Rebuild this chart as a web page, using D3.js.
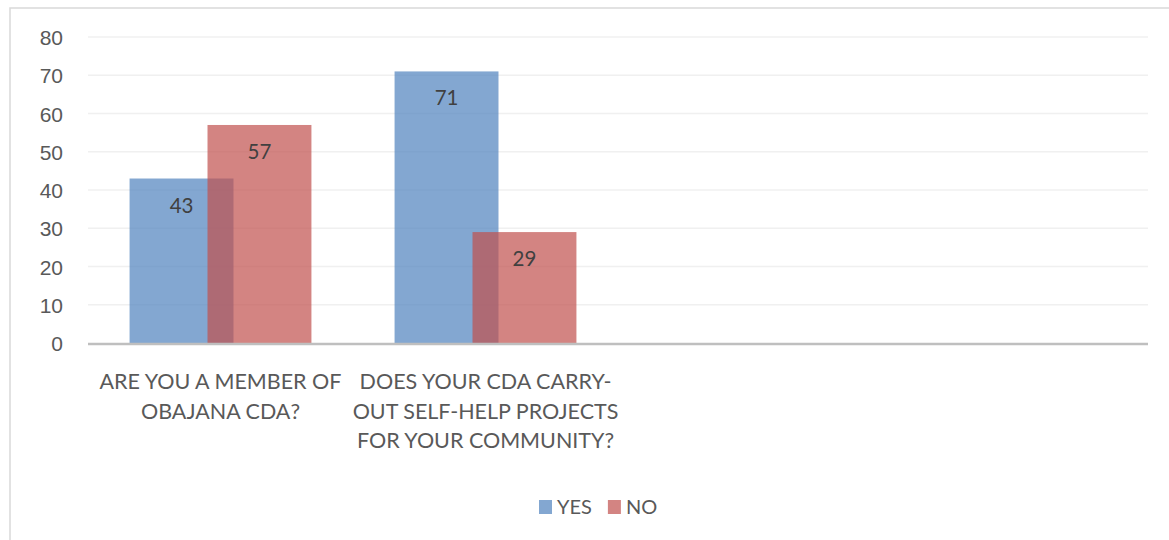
<!DOCTYPE html>
<html lang="en">
<head>
<meta charset="UTF-8">
<title>CDA membership and self-help projects</title>
<script src="https://d3js.org/d3.v7.min.js"></script>
<style>
    html, body { margin: 0; padding: 0; background: #fff; overflow: hidden; }
    svg { display: block; font-family: Lato, 'Open Sans', sans-serif; }
</style>
</head>
<body>
<div id="chart"></div>
<script>
    // Chart data
    const categories = [
        "ARE YOU A MEMBER OF\nOBAJANA CDA?",
        "DOES YOUR CDA CARRY-\nOUT SELF-HELP PROJECTS\nFOR YOUR COMMUNITY?",
        "",
        ""
    ];
    const seriesNames = ["YES", "NO"];
    const yesValues = [43, 71, null, null];
    const noValues = [57, 29, null, null];
    const yTicks = [0, 10, 20, 30, 40, 50, 60, 70, 80];

    const colors = ["#4F81BD", "#C0504D"];
    const series = [yesValues, noValues];

    const width = 1169, height = 540;
    const plot = { left: 88, right: 1148, top: 37, bottom: 343 };

    const svg = d3.select("#chart").append("svg")
        .attr("width", width)
        .attr("height", height);

    // outer chart frame (runs past the right and bottom edges)
    svg.append("rect")
        .attr("x", 10).attr("y", 8)
        .attr("width", 1300).attr("height", 700)
        .attr("fill", "none")
        .attr("stroke", "#d9d9d9")
        .attr("stroke-width", 1.5);

    const x = d3.scaleBand()
        .domain(d3.range(categories.length))
        .range([plot.left, plot.right]);

    const y = d3.scaleLinear()
        .domain([0, 80])
        .range([plot.bottom, plot.top]);

    // gridlines
    svg.append("g")
        .selectAll("line")
        .data(yTicks.filter(t => t > 0))
        .join("line")
        .attr("x1", plot.left).attr("x2", plot.right)
        .attr("y1", d => y(d)).attr("y2", d => y(d))
        .attr("stroke", "#f0f0f0")
        .attr("stroke-width", 1.5);

    // y axis labels
    const yAxis = d3.axisLeft(y).tickValues(yTicks).tickSize(0).tickPadding(25);
    const gy = svg.append("g")
        .attr("transform", `translate(${plot.left},0)`)
        .call(yAxis);
    gy.select(".domain").remove();
    gy.selectAll("text")
        .attr("fill", "#595959")
        .style("font-size", "21px")
        .attr("dy", "0.36em");

    // Excel-like clustered bars: gap width 80%, overlap 25%
    const gap = 0.8, overlap = 0.25, n = series.length;
    const barW = x.bandwidth() / (n - (n - 1) * overlap + gap);
    const step = barW * (1 - overlap);
    const groupW = barW + step * (n - 1);

    series.forEach((vals, si) => {
        const g = svg.append("g");
        const pts = vals.map((v, i) => ({ v, i })).filter(d => d.v != null);
        const bx = d => x(d.i) + (x.bandwidth() - groupW) / 2 + si * step;

        g.selectAll("rect")
            .data(pts)
            .join("rect")
            .attr("x", bx)
            .attr("y", d => y(d.v))
            .attr("width", barW)
            .attr("height", d => y(0) - y(d.v))
            .attr("fill", colors[si])
            .attr("fill-opacity", 0.7);

        g.selectAll("text")
            .data(pts)
            .join("text")
            .attr("x", d => bx(d) + barW / 2)
            .attr("y", d => y(d.v) + 34)
            .attr("text-anchor", "middle")
            .attr("fill", "#404040")
            .style("font-size", "20.5px")
            .text(d => d.v);
    });

    // x axis line
    svg.append("line")
        .attr("x1", plot.left).attr("x2", plot.right)
        .attr("y1", y(0) + 1).attr("y2", y(0) + 1)
        .attr("stroke", "#bfbfbf")
        .attr("stroke-width", 2.5);

    // category labels
    svg.append("g")
        .selectAll("text")
        .data(categories)
        .join("text")
        .attr("text-anchor", "middle")
        .attr("fill", "#595959")
        .style("font-size", "21.5px")
        .each(function(d, i) {
            d3.select(this).selectAll("tspan")
                .data(d.split("\n"))
                .join("tspan")
                .attr("x", x(i) + x.bandwidth() / 2)
                .attr("y", (l, j) => 389 + j * 29.5)
                .text(l => l);
        });

    // legend
    const legend = svg.append("g").attr("transform", "translate(539,500)");
    let lx = 0;
    seriesNames.forEach((name, si) => {
        legend.append("rect")
            .attr("x", lx).attr("y", 0)
            .attr("width", 13).attr("height", 14)
            .attr("fill", colors[si])
            .attr("fill-opacity", 0.7);
        const t = legend.append("text")
            .attr("x", lx + 18).attr("y", 14)
            .attr("fill", "#595959")
            .style("font-size", "20px")
            .text(name);
        lx += 18 + t.node().getComputedTextLength() + 16;
    });
</script>
</body>
</html>
